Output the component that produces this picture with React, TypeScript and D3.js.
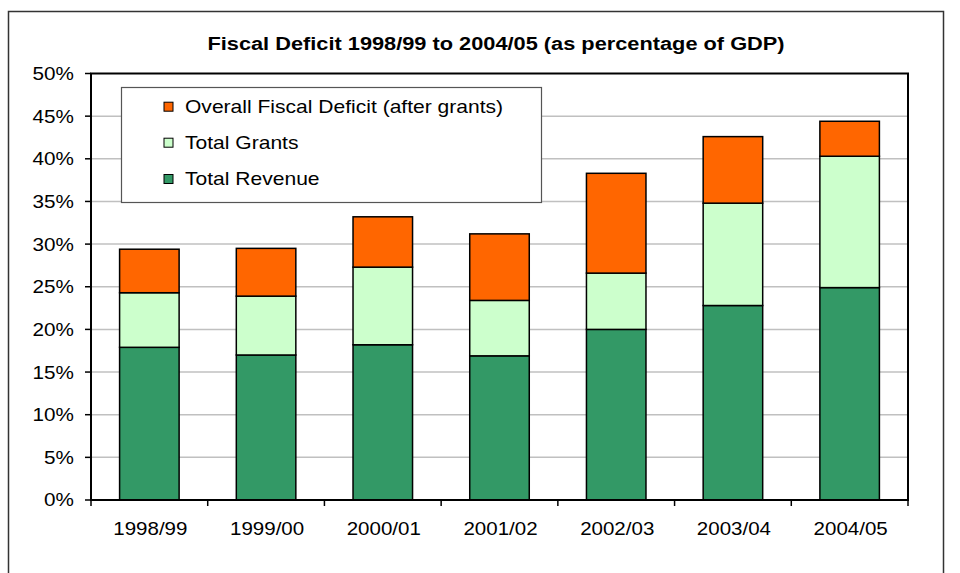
import React from "react";
import * as d3 from "d3";

const categories = ["1998/99", "1999/00", "2000/01", "2001/02", "2002/03", "2003/04", "2004/05"];
const totalRevenue = [17.9, 17.0, 18.2, 16.9, 20.0, 22.8, 24.9];
const totalGrants = [6.4, 6.9, 9.1, 6.5, 6.6, 12.0, 15.4];
const fiscalDeficit = [5.1, 5.6, 5.9, 7.8, 11.7, 7.8, 4.1];
const yTicks = [0, 5, 10, 15, 20, 25, 30, 35, 40, 45, 50];
const seriesNames = ["Total Revenue", "Total Grants", "Overall Fiscal Deficit (after grants)"];
const seriesColors = ["#339966", "#CCFFCC", "#FF6600"];
const title = "Fiscal Deficit 1998/99 to 2004/05 (as percentage of GDP)";

const W = 960;
const H = 573;
const FONT = "Liberation Sans, Arial, sans-serif";

export default function App() {
  const plot = { left: 91, right: 908, top: 73.5, bottom: 500 };
  const x = d3.scaleBand<string>().domain(categories).range([plot.left, plot.right]).paddingInner(0).paddingOuter(0);
  const y = d3.scaleLinear().domain([0, 50]).range([plot.bottom, plot.top]);
  const barW = x.bandwidth() * 0.51;

  const rows = categories.map((c, i) => ({
    cat: c,
    s0: totalRevenue[i],
    s1: totalGrants[i],
    s2: fiscalDeficit[i],
  }));
  const stack = d3.stack<any>().keys(["s0", "s1", "s2"]);
  const layers = stack(rows);

  const legendOrder = [2, 1, 0];
  const legendRowsY = [106.7, 142.7, 179];

  const stretchedText = (
    key: string,
    tx: number,
    ty: number,
    txt: string,
    anchor: string,
    size: number,
    sx: number,
    weight: string = "normal"
  ) => (
    <text
      key={key}
      transform={`translate(${tx},${ty}) scale(${sx},1)`}
      textAnchor={anchor as any}
      dominantBaseline="central"
      fontFamily={FONT}
      fontSize={size}
      fontWeight={weight}
      fill="#000"
    >
      {txt}
    </text>
  );

  return (
    <svg
      width={W}
      height={H}
      style={{ position: "absolute", left: 0, top: 0, background: "#fff" }}
    >
      {/* outer frame */}
      <rect x={8.5} y={11.5} width={935} height={H + 20} fill="#fff" stroke="#333" strokeWidth={1.5} />

      {/* title */}
      {stretchedText("title", 496, 44, title, "middle", 18, 1.21, "bold")}

      {/* gridlines */}
      {yTicks.slice(1, -1).map((t) => (
        <line key={"g" + t} x1={plot.left} x2={plot.right} y1={y(t)} y2={y(t)} stroke="#c0c0c0" strokeWidth={1.5} />
      ))}

      {/* y ticks and labels */}
      {yTicks.map((t) => (
        <g key={"yt" + t}>
          <line x1={plot.left - 6} x2={plot.left} y1={y(t)} y2={y(t)} stroke="#000" strokeWidth={1.5} />
          {stretchedText("yl" + t, 74, y(t), `${t}%`, "end", 18, 1.15)}
        </g>
      ))}

      {/* x ticks and labels */}
      {categories.map((c, i) => (
        <line key={"xt" + i} x1={x(c)!} x2={x(c)!} y1={plot.bottom} y2={plot.bottom + 6} stroke="#000" strokeWidth={1.5} />
      ))}
      <line x1={plot.right} x2={plot.right} y1={plot.bottom} y2={plot.bottom + 6} stroke="#000" strokeWidth={1.5} />
      {categories.map((c) => stretchedText("xl" + c, x(c)! + x.bandwidth() / 2 + 1, 529, c, "middle", 18, 1.14))}

      {/* bars */}
      {layers.map((layer, li) => (
        <g key={"layer" + li}>
          {layer.map((d, i) => {
            const cx = x(categories[i])! + x.bandwidth() / 2;
            return (
              <rect
                key={"b" + li + "-" + i}
                x={cx - barW / 2}
                y={y(d[1])}
                width={barW}
                height={y(d[0]) - y(d[1])}
                fill={seriesColors[li]}
                stroke="#000"
                strokeWidth={1.5}
              />
            );
          })}
        </g>
      ))}

      {/* plot border */}
      <rect
        x={plot.left}
        y={plot.top}
        width={plot.right - plot.left}
        height={plot.bottom - plot.top}
        fill="none"
        stroke="#000"
        strokeWidth={2}
      />

      {/* legend */}
      <rect x={121.5} y={87.5} width={420} height={115} fill="#fff" stroke="#555" strokeWidth={1.2} />
      {legendOrder.map((si, k) => (
        <g key={"lg" + si}>
          <rect
            x={164}
            y={legendRowsY[k] - 4.5}
            width={9}
            height={9}
            fill={seriesColors[si]}
            stroke="#000"
            strokeWidth={1}
          />
          {stretchedText("lt" + si, 185, legendRowsY[k], seriesNames[si], "start", 18, 1.17)}
        </g>
      ))}
    </svg>
  );
}
